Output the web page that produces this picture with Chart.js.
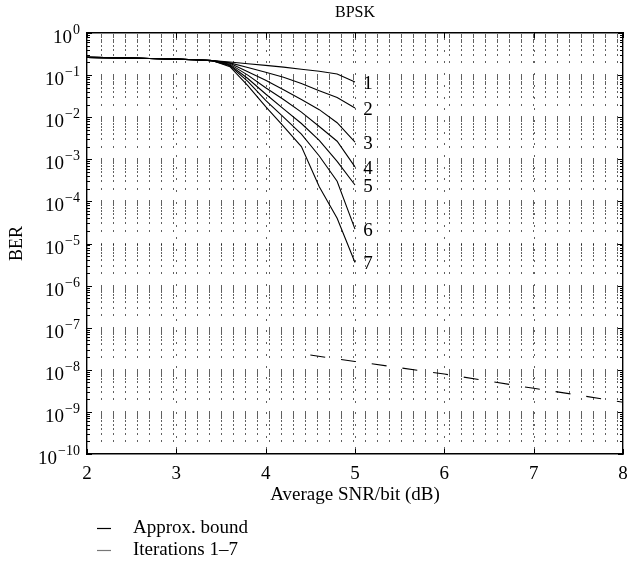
<!DOCTYPE html>
<html><head><meta charset="utf-8">
<script src="https://cdn.jsdelivr.net/npm/chart.js@4.4.0/dist/chart.umd.min.js"></script>
<style>html,body{margin:0;padding:0;background:#fff}canvas{display:block}</style>
</head><body>
<canvas id="c" width="643" height="565"></canvas>
<script>
// ---- data ----
const snrIter = [2.0,2.2,2.4,2.6,2.8,3.0,3.2,3.4,3.6,3.8,4.0,4.2,4.4,4.6,4.8,5.0];
const berCommon = [0.263,0.260,0.257,0.251,0.245,0.240,0.232,0.221];
const berIter1 = [0.204,0.186,0.170,0.155,0.138,0.123,0.106,0.0684];
const berIter2 = [0.195,0.151,0.117,0.0891,0.0631,0.0427,0.0295,0.0166];
const berIter3 = [0.191,0.120,0.0759,0.0447,0.0263,0.0151,0.00741,0.00257];
const berIter4 = [0.182,0.100,0.0501,0.0263,0.0132,0.00603,0.00269,0.000661];
const berIter5 = [0.174,0.0832,0.0355,0.0158,0.00708,0.00282,0.000891,0.000245];
const berIter6 = [0.166,0.0708,0.0251,0.0100,0.00398,0.00120,0.000302,2.19e-5];
const berIter7 = [0.158,0.0562,0.0178,0.00603,0.00200,0.000224,3.98e-5,3.55e-6];
const snrBound = [4.5,5.0,5.5,6.0,6.5,7.0,7.5,8.0];
const berBound = [2.24e-8,1.58e-8,1.12e-8,7.94e-9,5.37e-9,3.63e-9,2.51e-9,1.70e-9];
const xMajorTicks = [2,3,4,5,6,7,8];
const yDecadeExponents = [0,-1,-2,-3,-4,-5,-6,-7,-8,-9,-10];
const curveLabels = ['1','2','3','4','5','6','7'];
const legendLabels = ['Approx. bound','Iterations 1\u20137'];
const titleText = 'BPSK';
const xTitle = 'Average SNR/bit (dB)';
const yTitle = 'BER';

// ---- helpers ----
const SERIF = "'Liberation Serif', 'DejaVu Serif', serif";
const iterTails = [berIter1,berIter2,berIter3,berIter4,berIter5,berIter6,berIter7];
const toPts = (xs, ys) => xs.map((x,i) => ({x, y: ys[i]}));

const datasets = iterTails.map((tail, i) => ({
  label: 'Iteration ' + curveLabels[i],
  data: toPts(snrIter, berCommon.concat(tail)),
  borderColor: '#000', borderWidth: 1.1, pointRadius: 0, fill: false
}));
datasets.push({
  label: legendLabels[0],
  data: toPts(snrBound, berBound),
  borderColor: '#000', borderWidth: 1.1, borderDash: [15,16], pointRadius: 0, fill: false
});

const decadeOf = v => Math.round(Math.log10(v));
const isDecade = v => Math.abs(v / Math.pow(10, decadeOf(v)) - 1) < 1e-6;

const gridPlugin = {
  id: 'lattice',
  beforeDatasetsDraw(chart) {
    const {ctx, chartArea: a, scales: {x, y}} = chart;
    ctx.save();
    ctx.fillStyle = 'rgba(0,0,0,0.62)';
    const xs = x.ticks.filter(t => t.minor).map(t => Math.round(x.getPixelForValue(t.value)));
    const ys = y.ticks.map(t => Math.round(y.getPixelForValue(t.value)));
    xs.forEach(px => ys.forEach(py => { if (py > a.top + 1 && py < a.bottom - 1) ctx.fillRect(px, py - 1, 1, 2); }));
    x.ticks.filter(t => !t.minor).forEach(t => {
      const px = Math.round(x.getPixelForValue(t.value));
      if (px <= a.left + 1 || px >= a.right - 1) return;
      for (let py = a.top + 5; py < a.bottom - 2; py += 11.7) ctx.fillRect(px, Math.round(py), 1, 2);
    });
    ctx.strokeStyle = '#000'; ctx.lineWidth = 1;
    ctx.beginPath();
    y.ticks.forEach(t => {
      const py = Math.round(y.getPixelForValue(t.value)) + 0.5;
      const len = isDecade(t.value) ? 5 : 3;
      ctx.moveTo(a.left, py); ctx.lineTo(a.left + len, py);
      ctx.moveTo(a.right, py); ctx.lineTo(a.right - len, py);
    });
    x.ticks.filter(t => !t.minor).forEach(t => {
      const px = Math.round(x.getPixelForValue(t.value)) + 0.5;
      ctx.moveTo(px, a.bottom); ctx.lineTo(px, a.bottom - 5);
      ctx.moveTo(px, a.top); ctx.lineTo(px, a.top + 5);
    });
    ctx.stroke();
    ctx.restore();
  },
  afterDatasetsDraw(chart) {
    const {ctx} = chart;
    ctx.save();
    ctx.fillStyle = '#000';
    ctx.font = '19px ' + SERIF;
    ctx.textAlign = 'center'; ctx.textBaseline = 'middle';
    curveLabels.forEach((lab, i) => {
      const pts = chart.getDatasetMeta(i).data;
      const p = pts[pts.length - 1];
      ctx.fillText(lab, p.x + 13, p.y + 2);
    });
    ctx.restore();
  },
  afterDraw(chart) {
    const {ctx, chartArea: a, scales: {y}} = chart;
    ctx.save();
    // y decade labels: 10 with superscript exponent
    ctx.fillStyle = '#000';
    ctx.textBaseline = 'alphabetic'; ctx.textAlign = 'left';
    y.ticks.filter(t => isDecade(t.value)).forEach(t => {
      const py = y.getPixelForValue(t.value);
      const e = decadeOf(t.value);
      const expText = e === 0 ? '0' : '\u2212' + String(-e);
      ctx.font = '14px ' + SERIF;
      const wExp = ctx.measureText(expText).width;
      ctx.font = '19px ' + SERIF;
      const wBase = ctx.measureText('10').width;
      const right = a.left - 7;
      const x0 = right - wExp - wBase - 1;
      ctx.fillText('10', x0, py + 10);
      ctx.font = '14px ' + SERIF;
      ctx.fillText(expText, x0 + wBase + 1, py + 1);
    });
    // legend
    ctx.font = '19px ' + SERIF;
    ctx.textAlign = 'left'; ctx.textBaseline = 'middle';
    const colors = ['#000', '#777'];
    legendLabels.forEach((lab, i) => {
      const yy = 528 + i * 22;
      ctx.strokeStyle = colors[i]; ctx.lineWidth = 1.2;
      ctx.beginPath(); ctx.moveTo(97, yy + 0.5); ctx.lineTo(111, yy + 0.5); ctx.stroke();
      ctx.fillStyle = '#000';
      ctx.fillText(lab, 133, yy);
    });
    ctx.restore();
  }
};

new Chart(document.getElementById('c'), {
  type: 'line',
  data: { datasets },
  plugins: [gridPlugin],
  options: {
    responsive: false, animation: false, devicePixelRatio: 1,
    layout: { padding: { left: 0, right: 0, top: 0, bottom: 57 } },
    plugins: { legend: { display: false }, tooltip: { enabled: false }, title: { display: false } },
    elements: { point: { radius: 0 }, line: { tension: 0 } },
    scales: {
      x: {
        type: 'linear', position: 'bottom', min: 2, max: 8,
        afterBuildTicks: s => {
          const t = xMajorTicks.map(v => ({ value: v }));
          for (let k = 0; k < 44; k++) t.push({ value: 2.1536 + 0.13453 * k, minor: true });
          s.ticks = t.sort((a, b) => a.value - b.value);
        },
        afterFit: s => { s.height = 54; },
        ticks: {
          autoSkip: false, maxRotation: 0, padding: 1, color: '#000',
          font: { family: SERIF, size: 19 },
          callback: v => xMajorTicks.includes(v) ? String(v) : ''
        },
        grid: { display: false },
        border: { display: true, color: '#000', width: 1.4 },
        title: { display: true, text: xTitle, color: '#000', font: { family: SERIF, size: 19 }, padding: { top: 0, bottom: 2 } }
      },
      y: {
        type: 'logarithmic', position: 'left', min: 1e-10, max: 1,
        afterBuildTicks: s => {
          const t = [];
          yDecadeExponents.forEach(e => {
            t.push({ value: Math.pow(10, e) });
            if (e > -10) for (let m = 2; m <= 9; m++) t.push({ value: m * Math.pow(10, e - 1) });
          });
          s.ticks = t.sort((a, b) => a.value - b.value);
        },
        afterFit: s => { s.width = 87; },
        ticks: { autoSkip: false, display: false },
        grid: { display: false },
        border: { display: true, color: '#000', width: 1.4 },
        title: { display: true, text: yTitle, color: '#000', font: { family: SERIF, size: 18 }, padding: { top: 6, bottom: 0 } }
      },
      xTop: {
        type: 'linear', position: 'top', min: 2, max: 8,
        afterFit: s => { s.height = 33; },
        ticks: { display: false }, grid: { display: false },
        border: { display: true, color: '#000', width: 1.4 },
        title: { display: true, text: titleText, color: '#000', font: { family: SERIF, size: 16 }, padding: { top: 3, bottom: 0 } }
      },
      yRight: {
        type: 'linear', position: 'right', min: 0, max: 1,
        afterFit: s => { s.width = 20; },
        ticks: { display: false }, grid: { display: false },
        border: { display: true, color: '#000', width: 1.4 }
      }
    }
  }
});
</script>
</body></html>
